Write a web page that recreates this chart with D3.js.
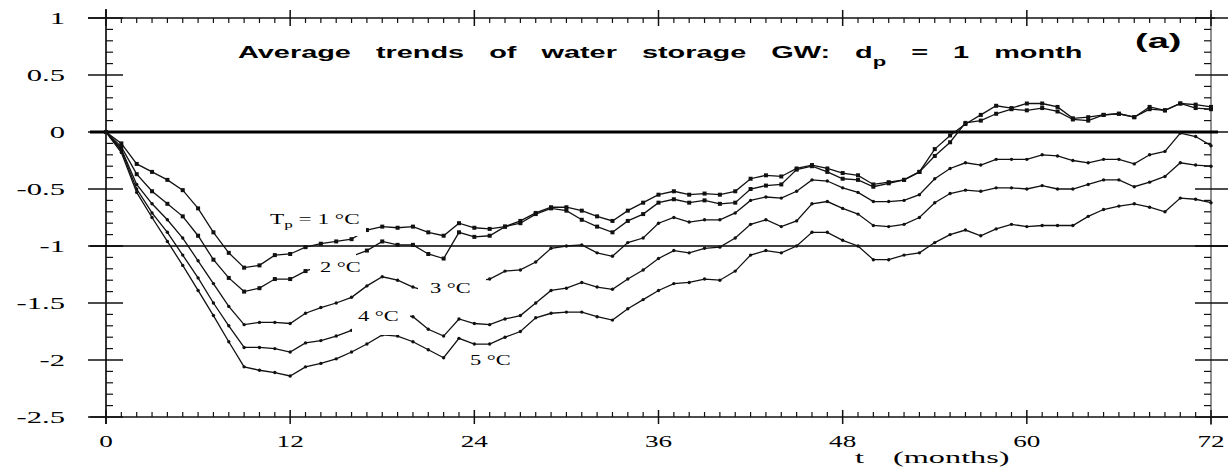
<!DOCTYPE html>
<html>
<head>
<meta charset="utf-8">
<script src="https://cdn.jsdelivr.net/npm/d3@7"></script>
<style>
  body { margin: 0; background: #fff; }
  svg text { fill: #000; }
</style>
</head>
<body>
<svg id="chart" width="1228" height="472"></svg>
<script>
// monthly averages of GW storage change, one value per month 0..72
var t1 = [0, -0.10, -0.28, -0.35, -0.42, -0.51, -0.67, -0.88, -1.06, -1.19, -1.17, -1.08, -1.07,
  -1.01, -0.98, -0.96, -0.94, -0.86, -0.83, -0.84, -0.83, -0.88, -0.91, -0.80, -0.84,
  -0.85, -0.83, -0.78, -0.71, -0.66, -0.66, -0.69, -0.74, -0.78, -0.69, -0.62, -0.55,
  -0.52, -0.55, -0.54, -0.55, -0.52, -0.41, -0.38, -0.39, -0.32, -0.29, -0.32, -0.36,
  -0.38, -0.46, -0.44, -0.42, -0.35, -0.15, -0.03, 0.07, 0.15, 0.23, 0.21, 0.25,
  0.25, 0.22, 0.12, 0.13, 0.15, 0.16, 0.13, 0.22, 0.19, 0.25, 0.24, 0.22];
var t2 = [0, -0.13, -0.37, -0.52, -0.63, -0.74, -0.91, -1.12, -1.28, -1.40, -1.37, -1.29, -1.29,
  -1.22, -1.17, -1.13, -1.09, -1.04, -0.96, -0.99, -0.99, -1.07, -1.11, -0.88, -0.92,
  -0.91, -0.83, -0.80, -0.72, -0.67, -0.69, -0.77, -0.83, -0.88, -0.78, -0.72, -0.62,
  -0.59, -0.62, -0.60, -0.63, -0.62, -0.50, -0.47, -0.46, -0.33, -0.30, -0.35, -0.41,
  -0.42, -0.48, -0.45, -0.42, -0.35, -0.21, -0.09, 0.08, 0.10, 0.16, 0.20, 0.19,
  0.21, 0.18, 0.11, 0.10, 0.15, 0.16, 0.13, 0.20, 0.19, 0.25, 0.21, 0.20];
var t3 = [0, -0.15, -0.46, -0.63, -0.77, -0.93, -1.13, -1.33, -1.53, -1.69, -1.67, -1.67, -1.68,
  -1.59, -1.54, -1.50, -1.45, -1.35, -1.27, -1.30, -1.36, -1.40, -1.34, -1.27, -1.31,
  -1.29, -1.22, -1.21, -1.14, -1.02, -1.00, -0.99, -1.06, -1.09, -0.97, -0.93, -0.80,
  -0.75, -0.79, -0.77, -0.77, -0.71, -0.60, -0.57, -0.58, -0.52, -0.42, -0.43, -0.49,
  -0.53, -0.61, -0.61, -0.60, -0.55, -0.41, -0.32, -0.27, -0.29, -0.24, -0.24, -0.24,
  -0.20, -0.21, -0.25, -0.27, -0.24, -0.24, -0.28, -0.20, -0.17, -0.01, -0.04, -0.12];
var t4 = [0, -0.16, -0.50, -0.71, -0.88, -1.08, -1.28, -1.50, -1.70, -1.89, -1.89, -1.90, -1.93,
  -1.85, -1.83, -1.79, -1.74, -1.66, -1.58, -1.60, -1.62, -1.73, -1.79, -1.64, -1.68,
  -1.69, -1.64, -1.61, -1.50, -1.39, -1.37, -1.32, -1.36, -1.38, -1.29, -1.21, -1.11,
  -1.04, -1.06, -1.02, -1.01, -0.93, -0.81, -0.77, -0.83, -0.78, -0.63, -0.61, -0.67,
  -0.72, -0.82, -0.83, -0.81, -0.75, -0.62, -0.54, -0.51, -0.52, -0.49, -0.49, -0.50,
  -0.47, -0.50, -0.50, -0.46, -0.42, -0.42, -0.48, -0.44, -0.39, -0.27, -0.29, -0.30];
var t5 = [0, -0.18, -0.53, -0.75, -0.96, -1.17, -1.39, -1.61, -1.84, -2.06, -2.09, -2.11, -2.14,
  -2.06, -2.03, -1.99, -1.93, -1.86, -1.78, -1.79, -1.84, -1.91, -1.98, -1.81, -1.86,
  -1.86, -1.80, -1.75, -1.63, -1.59, -1.58, -1.58, -1.62, -1.65, -1.55, -1.47, -1.39,
  -1.33, -1.32, -1.29, -1.30, -1.22, -1.08, -1.04, -1.06, -1.00, -0.88, -0.88, -0.95,
  -1.00, -1.12, -1.12, -1.08, -1.06, -0.97, -0.90, -0.86, -0.91, -0.85, -0.81, -0.83,
  -0.82, -0.82, -0.82, -0.74, -0.68, -0.65, -0.63, -0.66, -0.70, -0.58, -0.59, -0.62];

var xTicks = [0, 12, 24, 36, 48, 60, 72];
var yTicks = [1, 0.5, 0, -0.5, -1, -1.5, -2, -2.5];
var yTickLabels = ["1", "0.5", "0", "-0.5", "-1", "-1.5", "-2", "-2.5"];
var curveNames = ["1", "2", "3", "4", "5"];

var svg = d3.select("#chart");
var x = d3.scaleLinear().domain([0, 72]).range([106, 1211]);
var y = d3.scaleLinear().domain([-2.5, 1]).range([417, 18]);

// the scan is stretched sideways, so every text is too
var stretched = function(px, py, str, cls, sx, anchor) {
  var g = svg.append("g").attr("transform", "translate(" + px + "," + py + ") scale(" + sx + ",1)");
  return g.append("text").attr("class", cls).attr("text-anchor", anchor || "start").text(str);
};

var axisColor = "#111";

// frame
svg.append("line").attr("x1", 88).attr("x2", 1215).attr("y1", y(1)).attr("y2", y(1))
  .attr("stroke", axisColor).attr("stroke-width", 1.5);
svg.append("line").attr("x1", 90).attr("x2", 1228).attr("y1", y(-2.5)).attr("y2", y(-2.5))
  .attr("stroke", axisColor).attr("stroke-width", 1.5);
svg.append("line").attr("x1", x(0)).attr("x2", x(0)).attr("y1", 9).attr("y2", 424)
  .attr("stroke", "#333").attr("stroke-width", 2);
svg.append("line").attr("x1", x(72)).attr("x2", x(72)).attr("y1", 14).attr("y2", 425)
  .attr("stroke", "#555").attr("stroke-width", 1.3);

// x ticks: majors cross the frame, minors every month point inward
var xMinor = x.ticks(72).filter(function(d) { return d % 12 !== 0; });
svg.selectAll("line.xminor-b").data(xMinor).enter().append("line")
  .attr("x1", d => x(d)).attr("x2", d => x(d)).attr("y1", y(-2.5)).attr("y2", y(-2.5) - 5)
  .attr("stroke", axisColor).attr("stroke-width", 1.2);
svg.selectAll("line.xminor-t").data(xMinor).enter().append("line")
  .attr("x1", d => x(d)).attr("x2", d => x(d)).attr("y1", y(1)).attr("y2", y(1) + 5)
  .attr("stroke", axisColor).attr("stroke-width", 1.2);
svg.selectAll("line.xmajor-b").data(xTicks).enter().append("line")
  .attr("x1", d => x(d)).attr("x2", d => x(d)).attr("y1", y(-2.5) - 7).attr("y2", y(-2.5) + 7)
  .attr("stroke", axisColor).attr("stroke-width", 1.5);
svg.selectAll("line.xmajor-t").data(xTicks).enter().append("line")
  .attr("x1", d => x(d)).attr("x2", d => x(d)).attr("y1", y(1) - 8).attr("y2", y(1) + 8)
  .attr("stroke", axisColor).attr("stroke-width", 1.5);

// y ticks
var yMinor = y.ticks(35).filter(function(d) { return Math.abs(Math.round(d * 2) - d * 2) > 1e-6; });
svg.selectAll("line.yminor-l").data(yMinor).enter().append("line")
  .attr("x1", x(0)).attr("x2", x(0) + 7).attr("y1", d => y(d)).attr("y2", d => y(d))
  .attr("stroke", axisColor).attr("stroke-width", 1.2);
svg.selectAll("line.yminor-r").data(yMinor).enter().append("line")
  .attr("x1", x(72)).attr("x2", x(72) - 7).attr("y1", d => y(d)).attr("y2", d => y(d))
  .attr("stroke", axisColor).attr("stroke-width", 1.2);
svg.selectAll("line.ymajor-l").data(yTicks).enter().append("line")
  .attr("x1", 88).attr("x2", 123).attr("y1", d => y(d)).attr("y2", d => y(d))
  .attr("stroke", axisColor).attr("stroke-width", 1.3);
svg.selectAll("line.ymajor-r").data(yTicks).enter().append("line")
  .attr("x1", 1195).attr("x2", 1228).attr("y1", d => y(d)).attr("y2", d => y(d))
  .attr("stroke", axisColor).attr("stroke-width", 1.3);

// reference lines at 0 and -1
svg.append("line").attr("x1", 90).attr("x2", 1218).attr("y1", y(0)).attr("y2", y(0))
  .attr("stroke", "#000").attr("stroke-width", 3.2);
svg.append("line").attr("x1", 90).attr("x2", 1228).attr("y1", y(-1)).attr("y2", y(-1))
  .attr("stroke", "#000").attr("stroke-width", 1.6);

// tick labels
yTicks.forEach(function(d, k) {
  stretched(65, y(d) + 6, yTickLabels[k], "ylab", 1.8, "end")
    .attr("font-family", "Liberation Serif, Times New Roman, serif").attr("font-size", 17);
});
xTicks.forEach(function(d) {
  stretched(x(d), 447, String(d), "xlab", 1.6, "middle")
    .attr("font-family", "Liberation Serif, Times New Roman, serif").attr("font-size", 17);
});
stretched(855, 463, "t", "xtitle", 1.9, "start")
  .attr("font-family", "Liberation Serif, Times New Roman, serif").attr("font-size", 17);
stretched(893, 463, "(months)", "xtitle", 1.9, "start")
  .attr("font-family", "Liberation Serif, Times New Roman, serif").attr("font-size", 17);

// curves
var series = [t1, t2, t3, t4, t5];
var line = d3.line().x(function(d, i) { return x(i); }).y(function(d) { return y(d); });
svg.selectAll("path.curve").data(series).enter().append("path")
  .attr("class", "curve")
  .attr("d", line)
  .attr("fill", "none").attr("stroke", "#111").attr("stroke-width", 1.3);

series.forEach(function(s, k) {
  var g = svg.append("g").attr("class", "marks-" + curveNames[k]);
  if (k < 2) {
    g.selectAll("rect").data(s).enter().append("rect")
      .attr("x", (d, i) => x(i) - 2).attr("y", d => y(d) - 2)
      .attr("width", 4).attr("height", 4).attr("fill", "#111");
  } else {
    g.selectAll("circle").data(s).enter().append("circle")
      .attr("cx", (d, i) => x(i)).attr("cy", d => y(d))
      .attr("r", 1.7).attr("fill", "#111");
  }
});

// curve labels sit on white patches that break the lines
var patches = [[266, 208, 100, 28], [310, 250, 46, 32], [418, 264, 68, 36], [352, 302, 58, 33], [466, 350, 48, 20]];
patches.forEach(function(p) {
  svg.append("rect").attr("x", p[0]).attr("y", p[1]).attr("width", p[2]).attr("height", p[3])
    .attr("fill", "#fff");
});

var serif = "Liberation Serif, Times New Roman, serif";
var tp = stretched(270, 224, "T", "clab", 1.55, "start").attr("font-family", serif).attr("font-size", 15);
tp.append("tspan").attr("font-size", 11).attr("dy", 4).text("p");
tp.append("tspan").attr("dy", -4).text(" = 1 \u00b0C");
stretched(320, 272, "2 \u00b0C", "clab", 1.5, "start").attr("font-family", serif).attr("font-size", 15);
stretched(430, 293, "3 \u00b0C", "clab", 1.5, "start").attr("font-family", serif).attr("font-size", 15);
stretched(358, 321, "4 \u00b0C", "clab", 1.5, "start").attr("font-family", serif).attr("font-size", 15);
stretched(470, 365, "5 \u00b0C", "clab", 1.5, "start").attr("font-family", serif).attr("font-size", 15);

// title
var sans = "Liberation Sans, Arial, Helvetica, sans-serif";
var title = stretched(238, 58, "Average trends of water storage GW: d", "title", 1.7, "start")
  .attr("font-family", sans).attr("font-size", 17).attr("font-weight", "bold")
  .attr("word-spacing", 10);
title.append("tspan").attr("font-size", 13).attr("dy", 8).text("p");
title.append("tspan").attr("dy", -8).text(" = 1 month");
stretched(1135, 48, "(a)", "title", 1.9, "start")
  .attr("font-family", sans).attr("font-size", 20).attr("font-weight", "bold");
</script>
</body>
</html>
